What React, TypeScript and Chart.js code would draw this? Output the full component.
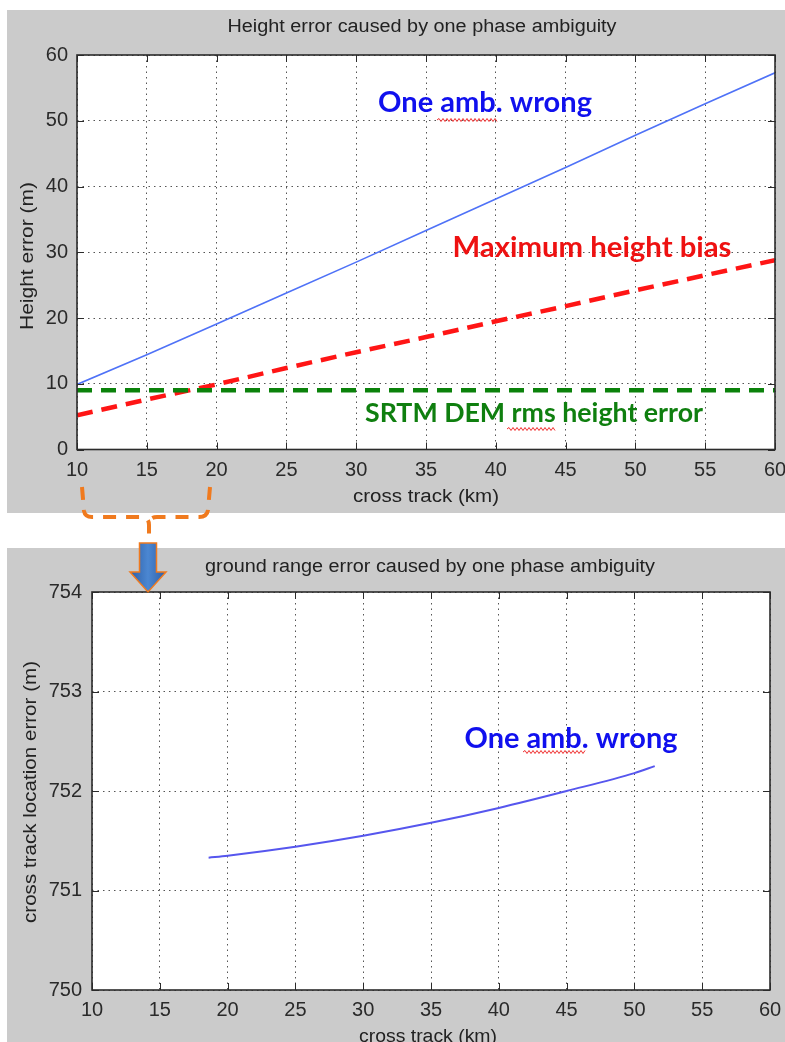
import React, { useEffect, useRef } from "react";
import { Chart, registerables } from "chart.js";

Chart.register(...registerables);

// ---------- data ----------
const crossTrackTop = [10, 15, 20, 25, 30, 35, 40, 45, 50, 55, 60];
const oneAmbWrongTop = [9.9, 14.4, 19.1, 23.8, 28.5, 33.3, 38.1, 42.9, 47.8, 52.6, 57.3];
const maxHeightBias = [5.2, 7.6, 9.9, 12.4, 14.8, 17.1, 19.5, 21.8, 24.2, 26.5, 28.8];
const srtmRmsError = [9, 9, 9, 9, 9, 9, 9, 9, 9, 9, 9];

const crossTrackBottom = [18.6, 20, 25, 30, 35, 40, 45, 50, 51.5];
const groundRangeError = [751.33, 751.35, 751.44, 751.55, 751.68, 751.83, 752.0, 752.18, 752.25];

const xTickValues = [10, 15, 20, 25, 30, 35, 40, 45, 50, 55, 60];
const yTickValuesTop = [0, 10, 20, 30, 40, 50, 60];
const yTickValuesBottom = [750, 751, 752, 753, 754];

const titleTop = "Height error caused by one phase ambiguity";
const titleBottom = "ground range error caused by one phase ambiguity";
const xLabel = "cross track (km)";
const yLabelTop = "Height error (m)";
const yLabelBottom = "cross track location error (m)";
const noteOneAmb = "One amb. wrong";
const noteMaxBias = "Maximum height bias";
const noteSrtm = "SRTM DEM rms height error";

// ---------- style ----------
const GREY = "#cbcbcb";
const TICK_FONT = "'Liberation Sans Narrow', 'Liberation Sans', Arial, sans-serif";
const LABEL_FONT = "'Liberation Sans', Arial, sans-serif";
const NOTE_FONT = "Lato, 'Open Sans', sans-serif";

type TextSpec = {
  text: string;
  cx: number;
  cy: number;
  w: number;
  cap: number;
  weight: string;
  family: string;
  color: string;
  rotate?: boolean;
};

function fitText(ctx: CanvasRenderingContext2D, t: TextSpec, ox: number, oy: number) {
  const size = t.cap / 0.72;
  ctx.save();
  ctx.font = `${t.weight} ${size}px ${t.family}`;
  const m = ctx.measureText(t.text).width;
  ctx.translate(t.cx - ox, t.cy - oy);
  if (t.rotate) ctx.rotate(-Math.PI / 2);
  ctx.scale(t.w / m, 1);
  ctx.fillStyle = t.color;
  ctx.textAlign = "center";
  ctx.textBaseline = "alphabetic";
  ctx.fillText(t.text, 0, t.cap / 2);
  ctx.restore();
}

function squiggle(ctx: CanvasRenderingContext2D, x1: number, x2: number, y: number, ox: number, oy: number) {
  ctx.save();
  ctx.strokeStyle = "#f03030";
  ctx.lineWidth = 1;
  ctx.beginPath();
  let up = true;
  ctx.moveTo(x1 - ox, y - oy);
  for (let x = x1 + 2; x <= x2; x += 2) {
    ctx.lineTo(x - ox, y - oy + (up ? -1.5 : 1.5));
    up = !up;
  }
  ctx.stroke();
  ctx.restore();
}

function makeDecor(ox: number, oy: number, texts: TextSpec[], squiggles: number[][]) {
  return {
    id: "decor",
    beforeDraw(chart: any) {
      const { ctx, chartArea: a } = chart;
      ctx.save();
      ctx.fillStyle = GREY;
      ctx.fillRect(0, 0, chart.width, chart.height);
      ctx.fillStyle = "#ffffff";
      ctx.fillRect(a.left, a.top, a.right - a.left, a.bottom - a.top);
      ctx.restore();
    },
    afterDraw(chart: any) {
      const { ctx, chartArea: a, scales } = chart;
      ctx.save();
      ctx.strokeStyle = "#2b2b2b";
      ctx.lineWidth = 1;
      const tl = 7;
      ctx.beginPath();
      scales.x.ticks.forEach((t: any) => {
        const px = Math.round(scales.x.getPixelForValue(t.value)) + 0.5;
        ctx.moveTo(px, a.bottom);
        ctx.lineTo(px, a.bottom - tl);
        ctx.moveTo(px, a.top);
        ctx.lineTo(px, a.top + tl);
      });
      scales.y.ticks.forEach((t: any) => {
        const py = Math.round(scales.y.getPixelForValue(t.value)) + 0.5;
        ctx.moveTo(a.left, py);
        ctx.lineTo(a.left + tl, py);
        ctx.moveTo(a.right, py);
        ctx.lineTo(a.right - tl, py);
      });
      ctx.stroke();
      ctx.lineWidth = 1.6;
      ctx.strokeRect(a.left, a.top, a.right - a.left, a.bottom - a.top);
      ctx.restore();
      texts.forEach((t) => fitText(ctx, t, ox, oy));
      squiggles.forEach((s) => squiggle(ctx, s[0], s[1], s[2], ox, oy));
    },
  };
}

function axisCommon(values: number[], fontSize: number, pad: number) {
  return {
    type: "linear",
    afterBuildTicks: (s: any) => {
      s.ticks = values.map((v) => ({ value: v }));
    },
    grid: { color: "#555555", lineWidth: 1, drawTicks: false },
    border: { display: false, dash: [1.5, 4] },
    ticks: {
      padding: pad,
      autoSkip: false,
      maxRotation: 0,
      color: "#2a2a2a",
      font: { family: TICK_FONT, size: fontSize },
    },
  };
}

function fixX(h: number) {
  return (s: any) => {
    s.height = h;
    s.paddingLeft = 0;
    s.paddingRight = 0;
  };
}

function fixY(w: number) {
  return (s: any) => {
    s.width = w;
    s.paddingTop = 0;
    s.paddingBottom = 0;
  };
}

function topConfig(): any {
  const ox = 7, oy = 10;
  const texts: TextSpec[] = [
    { text: titleTop, cx: 422, cy: 25, w: 389, cap: 13, weight: "400", family: LABEL_FONT, color: "#222" },
    { text: xLabel, cx: 426, cy: 495, w: 146, cap: 13, weight: "400", family: LABEL_FONT, color: "#222" },
    { text: yLabelTop, cx: 26, cy: 256, w: 148, cap: 13, weight: "400", family: LABEL_FONT, color: "#222", rotate: true },
    { text: noteOneAmb, cx: 485, cy: 102, w: 214, cap: 20, weight: "700", family: NOTE_FONT, color: "#1010ee" },
    { text: noteMaxBias, cx: 592, cy: 247, w: 279, cap: 20, weight: "700", family: NOTE_FONT, color: "#ee1111" },
    { text: noteSrtm, cx: 534, cy: 412, w: 338, cap: 19, weight: "700", family: NOTE_FONT, color: "#0f7f0f" },
  ];
  const sq = [
    [437, 498, 120],
    [507, 555, 429],
  ];
  return {
    type: "line",
    data: {
      datasets: [
        {
          label: noteOneAmb,
          data: crossTrackTop.map((x, i) => ({ x, y: oneAmbWrongTop[i] })),
          borderColor: "#4f72f7",
          borderWidth: 1.6,
          pointRadius: 0,
          tension: 0,
        },
        {
          label: noteSrtm,
          data: crossTrackTop.map((x, i) => ({ x, y: srtmRmsError[i] })),
          borderColor: "#0b820b",
          borderWidth: 4.5,
          borderDash: [15, 9],
          pointRadius: 0,
          tension: 0,
        },
        {
          label: noteMaxBias,
          data: crossTrackTop.map((x, i) => ({ x, y: maxHeightBias[i] })),
          borderColor: "#ff1515",
          borderWidth: 4.5,
          borderDash: [16, 9],
          pointRadius: 0,
          tension: 0,
        },
      ],
    },
    options: {
      animation: false,
      responsive: false,
      layout: { padding: { left: 0, right: 10, top: 45, bottom: 0 } },
      plugins: { legend: { display: false }, tooltip: { enabled: false }, title: { display: false } },
      scales: {
        x: { ...axisCommon(xTickValues, 20, 9), min: 10, max: 60, afterFit: fixX(63.5) },
        y: { ...axisCommon(yTickValuesTop, 20, 9), min: 0, max: 60, afterFit: fixY(70) },
      },
    },
    plugins: [makeDecor(ox, oy, texts, sq)],
  };
}

function bottomConfig(): any {
  const ox = 7, oy = 548;
  const texts: TextSpec[] = [
    { text: titleBottom, cx: 430, cy: 565, w: 450, cap: 13, weight: "400", family: LABEL_FONT, color: "#222" },
    { text: xLabel, cx: 428, cy: 1035, w: 138, cap: 13, weight: "400", family: LABEL_FONT, color: "#222" },
    { text: yLabelBottom, cx: 29, cy: 792, w: 262, cap: 13, weight: "400", family: LABEL_FONT, color: "#222", rotate: true },
    { text: noteOneAmb, cx: 571, cy: 738, w: 213, cap: 20, weight: "700", family: NOTE_FONT, color: "#1010ee" },
  ];
  const sq = [[523, 585, 752]];
  return {
    type: "line",
    data: {
      datasets: [
        {
          label: noteOneAmb,
          data: crossTrackBottom.map((x, i) => ({ x, y: groundRangeError[i] })),
          borderColor: "#5656ee",
          borderWidth: 2,
          pointRadius: 0,
          cubicInterpolationMode: "monotone",
        },
      ],
    },
    options: {
      animation: false,
      responsive: false,
      layout: { padding: { left: 0, right: 15, top: 44, bottom: 0 } },
      plugins: { legend: { display: false }, tooltip: { enabled: false }, title: { display: false } },
      scales: {
        x: { ...axisCommon(xTickValues, 20, 8), min: 10, max: 60, afterFit: fixX(52) },
        y: { ...axisCommon(yTickValuesBottom, 20, 10), min: 750, max: 754, afterFit: fixY(85) },
      },
    },
    plugins: [makeDecor(ox, oy, texts, sq)],
  };
}

function ChartCanvas(props: { make: () => any; left: number; top: number; width: number; height: number }) {
  const ref = useRef<HTMLCanvasElement>(null);
  useEffect(() => {
    const chart = new Chart(ref.current as HTMLCanvasElement, props.make());
    return () => chart.destroy();
  }, []);
  return (
    <canvas
      ref={ref}
      width={props.width}
      height={props.height}
      style={{ position: "absolute", left: props.left, top: props.top, width: props.width, height: props.height }}
    />
  );
}

export default function App() {
  const orange = "#f07a1e";
  return (
    <div style={{ position: "absolute", left: 0, top: 0, width: 785, height: 1042, background: "#ffffff", overflow: "hidden" }}>
      <ChartCanvas make={topConfig} left={7} top={10} width={778} height={503} />
      <ChartCanvas make={bottomConfig} left={7} top={548} width={778} height={494} />
      <svg width={785} height={1042} style={{ position: "absolute", left: 0, top: 0, pointerEvents: "none" }}>
        <defs>
          <linearGradient id="arrowGrad" x1="0" x2="1" y1="0" y2="0">
            <stop offset="0" stopColor="#2d5ea6" />
            <stop offset="0.5" stopColor="#4b87d2" />
            <stop offset="1" stopColor="#2d5ea6" />
          </linearGradient>
        </defs>
        <path
          d="M82 487 L84 511 Q85 517 92 517 L141 517 Q149 517 149 525 L149 539"
          stroke={orange}
          strokeWidth={4}
          fill="none"
          strokeDasharray="13 10"
        />
        <path
          d="M210 487 L208 510 Q207 517 199 517 L157 517 Q149 517 149 525"
          stroke={orange}
          strokeWidth={4}
          fill="none"
          strokeDasharray="13 10"
        />
        <path
          d="M139.5 543 L156.5 543 L156.5 572 L166 572 L148 592 L130 572 L139.5 572 Z"
          fill="url(#arrowGrad)"
          stroke={orange}
          strokeWidth={1.5}
        />
      </svg>
    </div>
  );
}
